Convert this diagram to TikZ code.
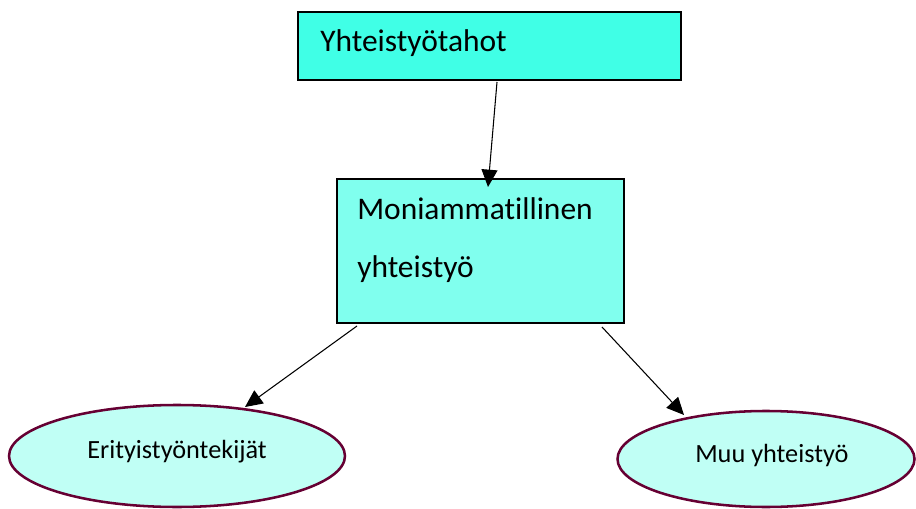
\documentclass[tikz,border=0pt]{standalone}
\usepackage{fontspec}
\setmainfont{Carlito}[Ligatures={NoCommon}]
\usetikzlibrary{shapes.geometric,arrows.meta}
\definecolor{boxA}{RGB}{64,255,230}
\definecolor{boxB}{RGB}{128,255,238}
\definecolor{ellfill}{RGB}{192,255,245}
\definecolor{ellline}{RGB}{102,0,51}
\tikzset{
  topbox/.style={draw=black,line width=1pt,fill=boxA,inner sep=0pt,outer sep=0pt},
  midbox/.style={draw=black,line width=1pt,fill=boxB,inner sep=0pt,outer sep=0pt},
  oval/.style={ellipse,draw=ellline,line width=1.9pt,fill=ellfill,inner sep=0pt,outer sep=0pt},
  bigtext/.style={inner sep=0pt,anchor=base west,font=\fontsize{23.6pt}{28pt}\selectfont},
  smalltext/.style={inner sep=0pt,anchor=base west,font=\fontsize{19.7pt}{24pt}\selectfont},
  conn/.style={draw=black,line width=0.8pt,-{Triangle[length=13pt,width=12pt]}}
}
\begin{document}
\begin{tikzpicture}[x=0.75pt,y=-0.75pt]
\useasboundingbox (0,0) rectangle (916,509);
\node[topbox,minimum width=287.25pt,minimum height=51pt] (b1) at (489.5,46) {};
\node[midbox,minimum width=215.25pt,minimum height=108pt] (b2) at (480.5,251) {};
\node[oval,minimum width=252pt,minimum height=76.5pt] (e1) at (177,456) {};
\node[oval,minimum width=222.75pt,minimum height=72pt] (e2) at (766,459) {};
\node[bigtext] (t1) at (320,52) {Yhteistyötahot};
\node[bigtext] (t2) at (357,220) {Moniammatillinen};
\node[bigtext] (t3) at (357,278) {yhteistyö};
\node[smalltext] (t4) at (87,458) {Erityistyöntekijät};
\node[smalltext] (t5) at (695,462) {Muu yhteistyö};
\coordinate (a1s) at (497,82);
\coordinate (a1e) at (488,187);
\coordinate (a2s) at (357,326);
\coordinate (a2e) at (245,407);
\coordinate (a3s) at (602,327);
\coordinate (a3e) at (684,415);
\draw[conn] (a1s) -- (a1e);
\draw[conn] (a2s) -- (a2e);
\draw[conn] (a3s) -- (a3e);
\end{tikzpicture}
\end{document}
